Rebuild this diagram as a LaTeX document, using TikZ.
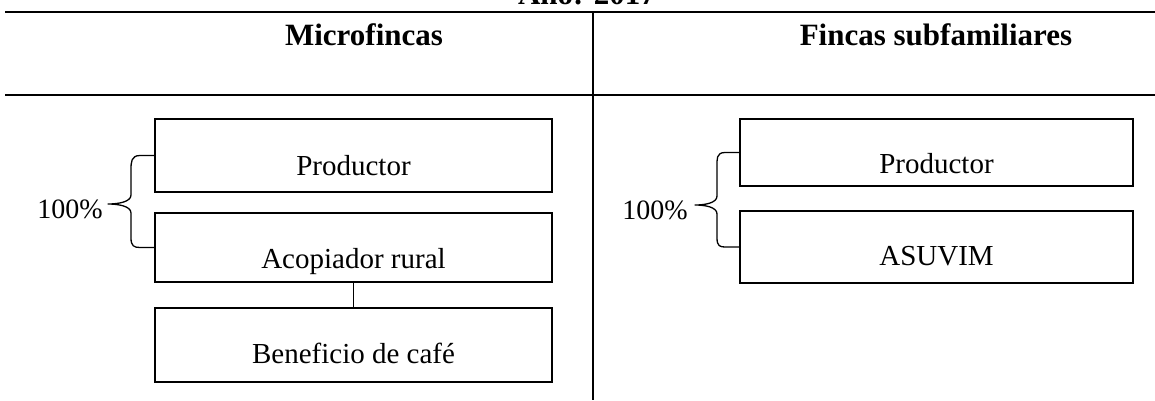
\documentclass[tikz,border=0pt]{standalone}
\usepackage{fontspec}
\setmainfont{Liberation Serif}
\tikzset{
  box/.style={draw, line width=1.8pt, inner sep=0pt},
  txt/.style={font=\fontsize{29}{34}\selectfont, anchor=base, inner sep=0pt},
  rule/.style={line width=1.8pt},
  divider/.style={line width=1.3pt},
  brace/.style={line width=1.3pt, line join=round},
  head/.style={font=\fontsize{31}{37}\selectfont\bfseries, anchor=base, inner sep=0pt},
  pct/.style={font=\fontsize{28}{34}\selectfont, anchor=base east, inner sep=0pt}
}
\begin{document}
\begin{tikzpicture}[x=1pt,y=-1pt]
\useasboundingbox (0,0) rectangle (1155,400);
\clip (0,0) rectangle (1155,400);
% partial title
\node[head] (title) at (587,4) {Año: 2017};
% rules
\coordinate (r1a) at (5,12); \coordinate (r1b) at (1155,12);
\coordinate (r2a) at (5,95); \coordinate (r2b) at (1155,95);
\coordinate (dva) at (593,12); \coordinate (dvb) at (593,400);
\draw[rule] (r1a) -- (r1b);
\draw[rule] (r2a) -- (r2b);
\draw[divider] (dva) -- (dvb);
% headings
\node[head] (h1) at (364,45) {Microfincas};
\node[head] (h2) at (936,45) {Fincas subfamiliares};
% left boxes
\node[box, minimum width=397pt, minimum height=73pt] (p1) at (353.5,155.5) {};
\node[txt] (p1t) at (353.5,175) {Productor};
\node[box, minimum width=397pt, minimum height=69pt] (a1) at (353.5,247.5) {};
\node[txt] (a1t) at (353.5,268) {Acopiador rural};
\node[box, minimum width=397pt, minimum height=74pt] (b1) at (353.5,345) {};
\node[txt] (b1t) at (353.5,363) {Beneficio de café};
\draw[line width=1pt] (a1.south) -- (b1.north);
% right boxes
\node[box, minimum width=393pt, minimum height=67pt] (p2) at (936.5,152.5) {};
\node[txt] (p2t) at (936.5,173) {Productor};
\node[box, minimum width=393pt, minimum height=72pt] (s2) at (936.5,247) {};
\node[txt] (s2t) at (936.5,265) {ASUVIM};
% braces
\coordinate (t1) at (108,204);
\draw[brace] (p1.west) -- ++(-14,0) .. controls +(-9,0) and +(0,-8) .. (131,170)
  -- (131,195) .. controls (131,202) and (118,204) .. (t1)
  .. controls (118,204) and (131,206) .. (131,213)
  -- (131,238) .. controls (131,246) and (134,247.5) .. ([xshift=-14pt]a1.west) -- (a1.west);
\node[pct] (pc1) at (103,218) {100\%};
\coordinate (t2) at (695,205);
\draw[brace] (p2.west) -- ++(-14,0) .. controls +(-9,0) and +(0,-8) .. (717,167)
  -- (717,196) .. controls (717,203) and (705,205) .. (t2)
  .. controls (705,205) and (717,207) .. (717,214)
  -- (717,238) .. controls (717,246) and (720,247) .. ([xshift=-14pt]s2.west) -- (s2.west);
\node[pct] (pc2) at (688,219) {100\%};
\end{tikzpicture}
\end{document}
